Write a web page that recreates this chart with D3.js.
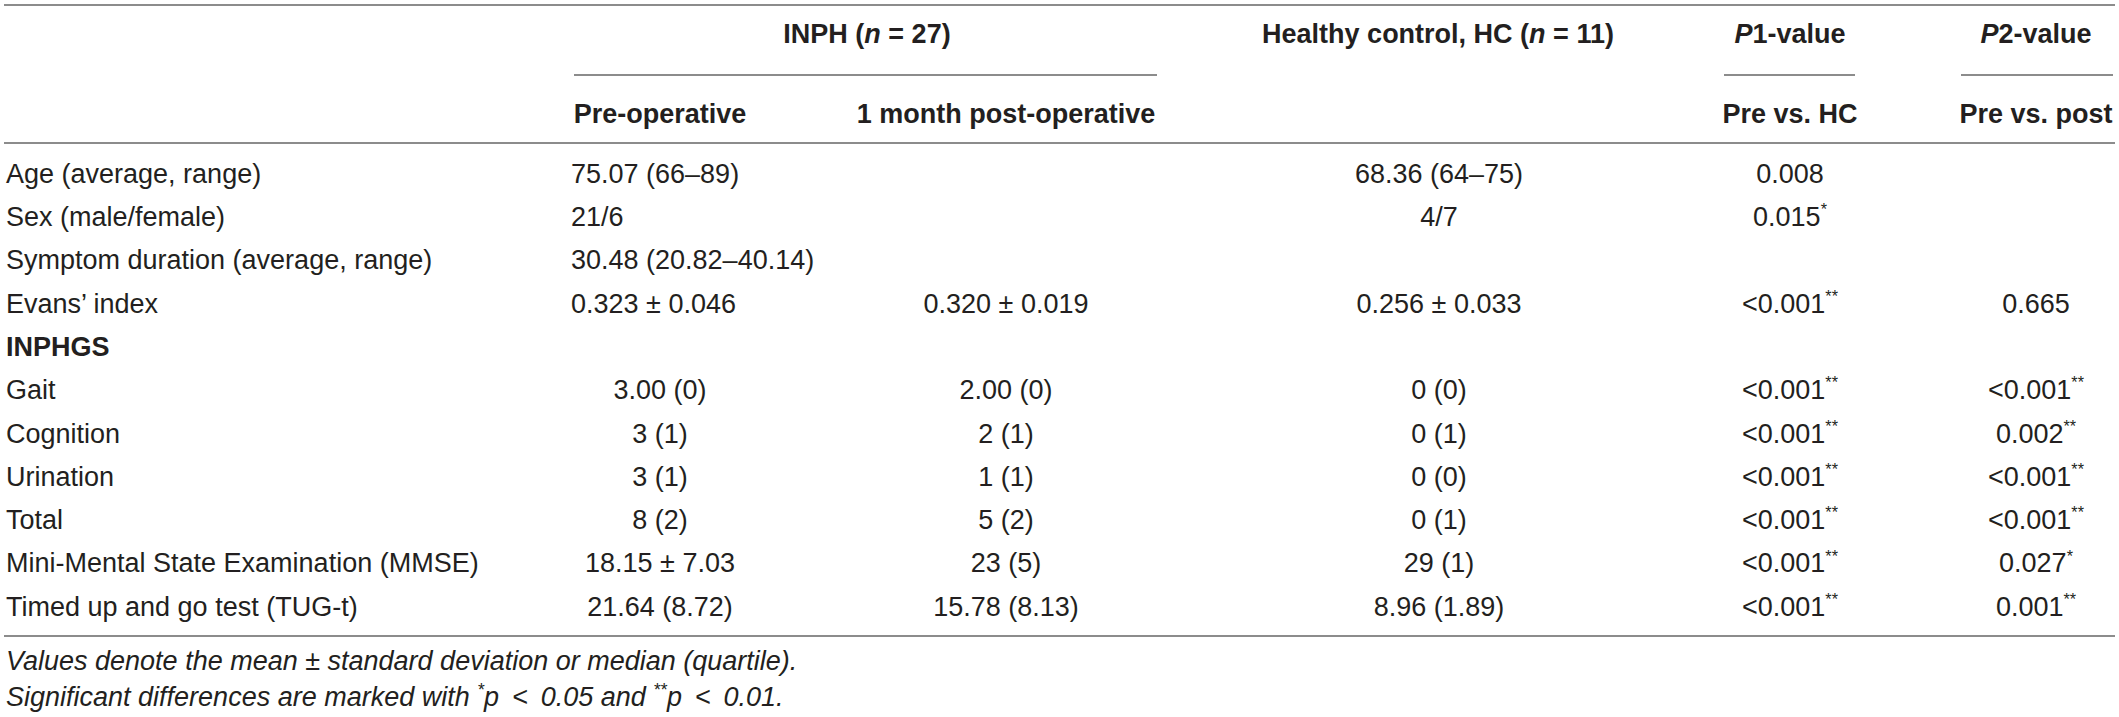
<!DOCTYPE html>
<html>
<head>
<meta charset="utf-8">
<script src="https://cdn.jsdelivr.net/npm/d3@7"></script>
<style>
  body { margin: 0; background: #fff; }
  svg text { font-family: "Helvetica Neue", Helvetica, "Liberation Sans", Arial, sans-serif; fill: #231f20; }
</style>
</head>
<body>
<div id="table"></div>
<script>
// table content, one array per column
var rowLabels = ['Age (average, range)', 'Sex (male/female)', 'Symptom duration (average, range)', 'Evans\u2019 index',
	'INPHGS', 'Gait', 'Cognition', 'Urination', 'Total', 'Mini-Mental State Examination (MMSE)', 'Timed up and go test (TUG-t)'];
var preOp  = ['75.07 (66\u201389)', '21/6', '30.48 (20.82\u201340.14)', '0.323 \u00b1 0.046', '', '3.00 (0)', '3 (1)', '3 (1)', '8 (2)', '18.15 \u00b1 7.03', '21.64 (8.72)'];
var postOp = ['', '', '', '0.320 \u00b1 0.019', '', '2.00 (0)', '2 (1)', '1 (1)', '5 (2)', '23 (5)', '15.78 (8.13)'];
var hcVals = ['68.36 (64\u201375)', '4/7', '', '0.256 \u00b1 0.033', '', '0 (0)', '0 (1)', '0 (0)', '0 (1)', '29 (1)', '8.96 (1.89)'];
var p1Vals = ['0.008', '0.015*', '', '<0.001**', '', '<0.001**', '<0.001**', '<0.001**', '<0.001**', '<0.001**', '<0.001**'];
var p2Vals = ['', '', '', '0.665', '', '<0.001**', '0.002**', '<0.001**', '<0.001**', '0.027*', '0.001**'];
var boldRows = ['INPHGS'];
var leftAlignedPre = 4; // first rows of pre-op column are left aligned

var footnotes = [
	[{t: 'Values denote the mean \u00b1 standard deviation or median (quartile).'}],
	[{t: 'Significant differences are marked with '}, {t: '*', sup: true}, {t: 'p \u2009<\u2009 0.05 and '}, {t: '**', sup: true}, {t: 'p \u2009<\u2009 0.01.'}]
];

var W = 2119, H = 717, fs = 27;
var svg = d3.select('#table').append('svg').attr('width', W).attr('height', H);

var cols = ['label', 'pre', 'post', 'hc', 'p1', 'p2'];
var colX = d3.scaleOrdinal().domain(cols).range([6, 660, 1006, 1439, 1790, 2036]);
var rowY = d3.scalePoint().domain(d3.range(rowLabels.length)).range([173, 606]);

function base(c){ return c + fs * 0.36; }

// rules
var rules = [
	{y: 5, x1: 4, x2: 2115},
	{y: 75, x1: 574, x2: 1157},
	{y: 75, x1: 1724, x2: 1855},
	{y: 75, x1: 1961, x2: 2113},
	{y: 143, x1: 4, x2: 2115},
	{y: 636, x1: 4, x2: 2115}
];
svg.selectAll('line.rule').data(rules).enter().append('line')
	.attr('class', 'rule')
	.attr('x1', function(d){ return d.x1; })
	.attr('x2', function(d){ return d.x2; })
	.attr('y1', function(d){ return d.y; })
	.attr('y2', function(d){ return d.y; })
	.attr('stroke', '#8c8c8c')
	.attr('stroke-width', 2);

// header cells: arrays of runs
var headers = [
	{x: 867, y: 33, runs: [{t: 'INPH ('}, {t: 'n', it: true}, {t: ' = 27)'}]},
	{x: 1438, y: 33, runs: [{t: 'Healthy control, HC ('}, {t: 'n', it: true}, {t: ' = 11)'}]},
	{x: colX('p1'), y: 33, runs: [{t: 'P', it: true}, {t: '1-value'}]},
	{x: colX('p2'), y: 33, runs: [{t: 'P', it: true}, {t: '2-value'}]},
	{x: colX('pre'), y: 113, runs: [{t: 'Pre-operative'}]},
	{x: colX('post'), y: 113, runs: [{t: '1 month post-operative'}]},
	{x: colX('p1'), y: 113, runs: [{t: 'Pre vs. HC'}]},
	{x: colX('p2'), y: 113, runs: [{t: 'Pre vs. post'}]}
];
var hText = svg.selectAll('text.head').data(headers).enter().append('text')
	.attr('class', 'head')
	.attr('x', function(d){ return d.x; })
	.attr('y', function(d){ return base(d.y); })
	.attr('text-anchor', 'middle')
	.style('font-size', fs + 'px')
	.style('font-weight', 'bold');
hText.selectAll('tspan').data(function(d){ return d.runs; }).enter().append('tspan')
	.style('font-style', function(d){ return d.it ? 'italic' : 'normal'; })
	.text(function(d){ return d.t; });

// body cells
var cells = [];
var colData = {label: rowLabels, pre: preOp, post: postOp, hc: hcVals, p1: p1Vals, p2: p2Vals};
cols.forEach(function(c){
	colData[c].forEach(function(v, i){
		if(v === '') return;
		var m = v.match(/^(.*?)(\**)$/);
		var anchor = 'middle', x = colX(c);
		if(c == 'label'){ anchor = 'start'; }
		if(c == 'pre' && i < leftAlignedPre){ anchor = 'start'; x = 571; }
		cells.push({col: c, row: i, main: m[1], stars: m[2], x: x, anchor: anchor,
			bold: c == 'label' && boldRows.indexOf(v) >= 0});
	});
});

var cText = svg.selectAll('text.cell').data(cells).enter().append('text')
	.attr('class', 'cell')
	.attr('x', function(d){ return d.x; })
	.attr('y', function(d){ return base(rowY(d.row)); })
	.attr('text-anchor', function(d){ return d.anchor; })
	.style('font-size', fs + 'px')
	.style('font-weight', function(d){ return d.bold ? 'bold' : 'normal'; });
cText.append('tspan').text(function(d){ return d.main; });
cText.filter(function(d){ return d.stars; }).append('tspan')
	.attr('dy', -fs * 0.4)
	.style('font-size', (fs * 0.6) + 'px')
	.text(function(d){ return d.stars; });

// footnotes
var fText = svg.selectAll('text.foot').data(footnotes).enter().append('text')
	.attr('class', 'foot')
	.attr('x', 6)
	.attr('y', function(d, i){ return base(660 + i * 36); })
	.style('font-size', fs + 'px')
	.style('font-style', 'italic');
fText.each(function(runs){
	var t = d3.select(this);
	var up = false;
	runs.forEach(function(r){
		var s = t.append('tspan').text(r.t);
		if(r.sup){ s.attr('dy', -fs * 0.35).style('font-size', (fs * 0.65) + 'px'); up = true; }
		else if(up){ s.attr('dy', fs * 0.35); up = false; }
	});
});
</script>
</body>
</html>
